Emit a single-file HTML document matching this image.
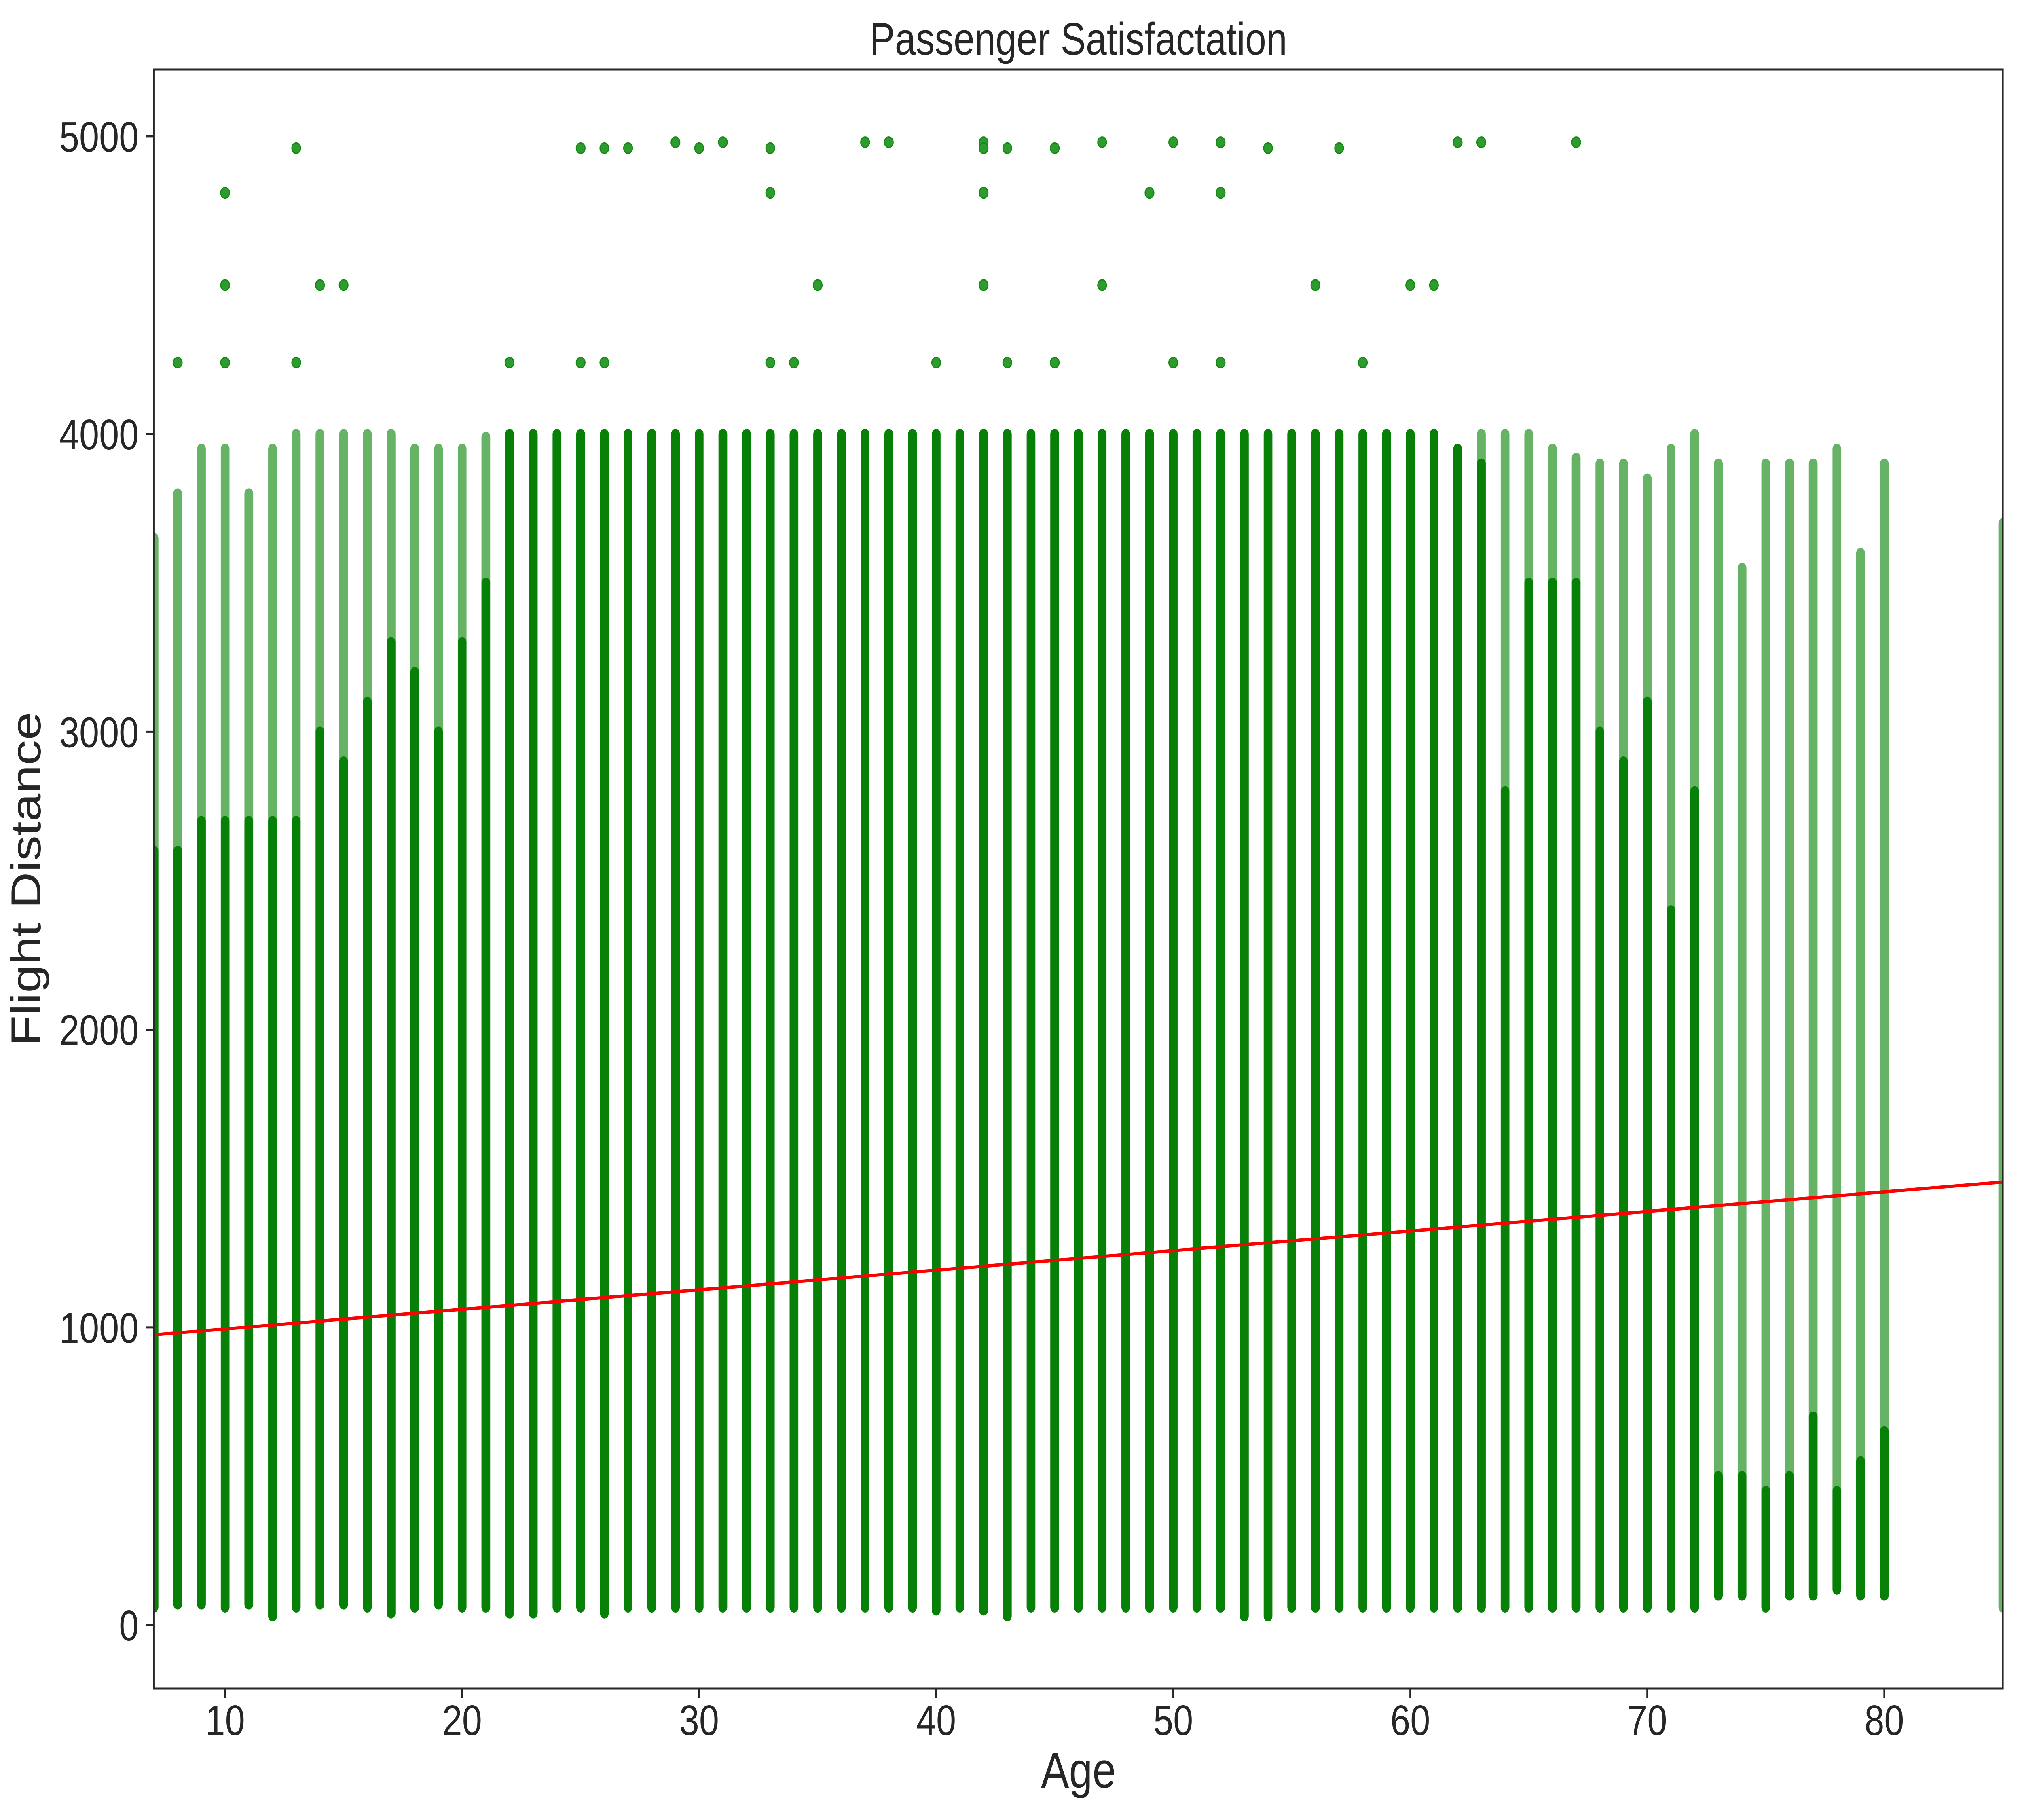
<!DOCTYPE html>
<html><head><meta charset="utf-8"><style>
html,body{margin:0;padding:0;background:#fff;overflow:hidden;width:100%;height:100%;}
svg{display:block;position:absolute;left:0;top:0;width:100vw;height:100vh;font-family:"Liberation Sans",Arial,sans-serif;}
</style></head><body>
<svg id="chart" viewBox="0 0 6000 4500" preserveAspectRatio="none">
<rect width="6000" height="4500" fill="#fff"/>
<defs><clipPath id="pc"><rect x="457" y="172" width="5486" height="4003"/></clipPath></defs>
<g id="marks" clip-path="url(#pc)"></g>
<g id="axes"></g>
</svg>
<script>
const ages   = [7,8,9,10,11,12,13,14,15,16,17,18,19,20,21,22,23,24,25,26,27,28,29,30,31,32,33,34,35,36,37,38,39,40,41,42,43,44,45,46,47,48,49,50,51,52,53,54,55,56,57,58,59,60,61,62,63,64,65,66,67,68,69,70,71,72,73,74,75,76,77,78,79,80,85];
const lowVals = [60,70,70,60,70,30,60,70,70,60,40,60,70,60,60,40,40,60,60,40,60,60,60,60,60,60,60,60,60,60,60,60,60,50,60,50,30,60,60,60,60,60,60,60,60,60,30,30,60,60,60,60,60,60,60,60,60,60,60,60,60,60,60,60,60,60,100,100,60,100,100,120,100,100,60];
const denseHi = [2600,2600,2700,2700,2700,2700,2700,3000,2900,3100,3300,3200,3000,3300,3500,4000,4000,4000,4000,4000,4000,4000,4000,4000,4000,4000,4000,4000,4000,4000,4000,4000,4000,4000,4000,4000,4000,4000,4000,4000,4000,4000,4000,4000,4000,4000,4000,4000,4000,4000,4000,4000,4000,4000,4000,3950,3900,2800,3500,3500,3500,3000,2900,3100,2400,2800,500,500,450,500,700,450,550,650,0];
const sparseHi = [3650,3800,3950,3950,3800,3950,4000,4000,4000,4000,4000,3950,3950,3950,3990,4000,4000,4000,4000,4000,4000,4000,4000,4000,4000,4000,4000,4000,4000,4000,4000,4000,4000,4000,4000,4000,4000,4000,4000,4000,4000,4000,4000,4000,4000,4000,4000,4000,4000,4000,4000,4000,4000,4000,4000,3950,4000,4000,4000,3950,3920,3900,3900,3850,3950,4000,3900,3550,3900,3900,3900,3950,3600,3900,3700];
const outAge = [8,10,10,10,13,13,14,15,22,25,25,26,26,27,29,30,31,33,33,33,34,35,37,38,40,42,42,42,42,43,43,45,45,47,47,49,50,50,52,52,52,54,56,57,58,60,61,62,63,67];
const outVal = [4240,4810,4500,4240,4960,4240,4500,4500,4240,4960,4240,4960,4240,4960,4980,4960,4980,4960,4810,4240,4240,4500,4980,4980,4240,4980,4960,4810,4500,4960,4240,4960,4240,4980,4500,4810,4980,4240,4980,4810,4240,4960,4500,4960,4240,4500,4500,4980,4980,4980];
const trendX = [7,85];
const trendY = [975,1488];
const xTicks = [10,20,30,40,50,60,70,80];
const yTicks = [0,1000,2000,3000,4000,5000];

const L=457,R=5943,T=172,B=4175;
const xMin=7,xMax=85,yMin=-213,yMax=5224;
const sx=v=>L+(v-xMin)/(xMax-xMin)*(R-L);
const sy=v=>B-(v-yMin)/(yMax-yMin)*(B-T);
const NS="http://www.w3.org/2000/svg";
const marks=document.getElementById('marks'), axes=document.getElementById('axes');
function mk(tag,attrs,parent){const e=document.createElementNS(NS,tag);for(const k in attrs)e.setAttribute(k,attrs[k]);parent.appendChild(e);return e;}
const W=26;
ages.forEach((a,i)=>{
  const x=sx(a);
  if(sparseHi[i]>denseHi[i]){
    const s=mk('rect',{x:x-W/2,y:sy(sparseHi[i])-W/2,width:W,height:sy(Math.max(denseHi[i],lowVals[i]))-sy(sparseHi[i])+W,rx:W/2,fill:'#008000','fill-opacity':0.6},marks);
    
    
  }
  if(denseHi[i]>lowVals[i]){
    const d=mk('rect',{x:x-W/2,y:sy(denseHi[i])-W/2,width:W,height:sy(lowVals[i])-sy(denseHi[i])+W,rx:W/2,fill:'#078007'},marks);
    
    
  }
});
outAge.forEach((a,i)=>{
  const c=mk('circle',{cx:sx(a),cy:sy(outVal[i]),r:13,fill:'#2f9a2f',stroke:'#118c11','stroke-width':3},marks);
  
  
});
const tl=mk('line',{x1:sx(trendX[0]),y1:sy(trendY[0]),x2:sx(trendX[1]),y2:sy(trendY[1]),stroke:'#ff0000','stroke-width':8},marks);



const frame=mk('rect',{x:L,y:T,width:R-L,height:B-T,fill:'none',stroke:'#262626','stroke-width':5},axes);


xTicks.forEach(t=>{
  const g=mk('g',{},axes);
  
  
  mk('line',{x1:sx(t),y1:B,x2:sx(t),y2:B+23,stroke:'#262626','stroke-width':5},g);
  const tx=mk('text',{x:sx(t),y:B+115,'font-size':106,'text-anchor':'middle',fill:'#262626'},g);tx.textContent=t;
});
yTicks.forEach(t=>{
  const g=mk('g',{},axes);
  
  
  mk('line',{x1:L-23,y1:sy(t),x2:L,y2:sy(t),stroke:'#262626','stroke-width':5},g);
  const tx=mk('text',{x:L-45,y:sy(t)+38,'font-size':106,'text-anchor':'end',fill:'#262626'},g);tx.textContent=t;
});
const title=mk('text',{x:(L+R)/2,y:135,'font-size':112,'text-anchor':'middle',fill:'#262626'},axes);
title.textContent='Passenger Satisfactation';


const xl=mk('text',{x:(L+R)/2,y:4420,'font-size':125,'text-anchor':'middle',fill:'#262626'},axes);
xl.textContent='Age';


const yl=mk('text',{x:0,y:0,'font-size':125,'text-anchor':'middle',fill:'#262626',transform:'translate(120,'+((T+B)/2)+') rotate(-90)'},axes);
yl.textContent='Flight Distance';


</script>
</body></html>
